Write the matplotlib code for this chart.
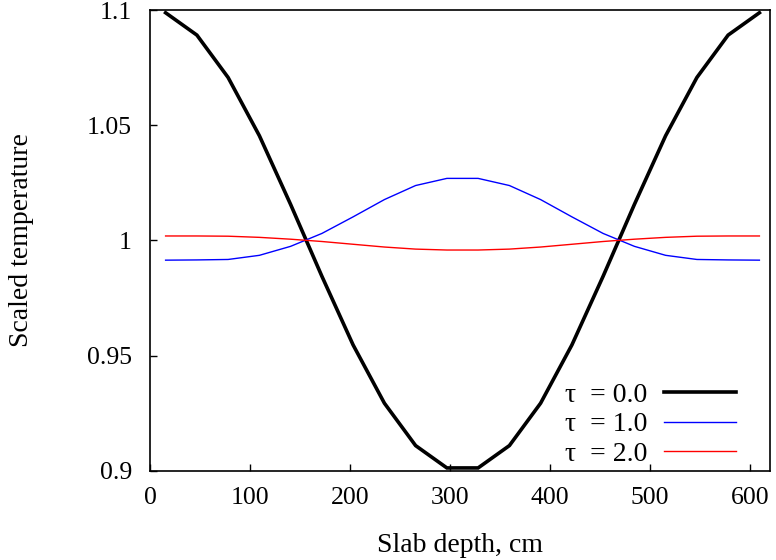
import matplotlib
matplotlib.use("Agg")
import matplotlib.pyplot as plt

plt.rcParams["font.family"] = ["Liberation Serif", "DejaVu Serif"]

# cell centres along the slab (cm)
depth = [15.6, 46.9, 78.1, 109.4, 140.6, 171.9, 203.1, 234.4, 265.6, 296.9,
         328.1, 359.4, 390.6, 421.9, 453.1, 484.4, 515.6, 546.9, 578.1, 609.4]

temp_t0 = [1.0988, 1.0891, 1.0707, 1.0454, 1.0156, 0.9844, 0.9546, 0.9293, 0.9109, 0.9012,
           0.9012, 0.9109, 0.9293, 0.9546, 0.9844, 1.0156, 1.0454, 1.0707, 1.0891, 1.0988]
temp_t1 = [0.9914, 0.9915, 0.9917, 0.9935, 0.9974, 1.0030, 1.0102, 1.0177, 1.0238, 1.0269,
           1.0269, 1.0238, 1.0177, 1.0102, 1.0030, 0.9974, 0.9935, 0.9917, 0.9915, 0.9914]
temp_t2 = [1.0019, 1.0019, 1.0018, 1.0013, 1.0005, 0.9995, 0.9983, 0.9971, 0.9962, 0.9958,
           0.9958, 0.9962, 0.9971, 0.9983, 0.9995, 1.0005, 1.0013, 1.0018, 1.0019, 1.0019]

labels = ["τ  = 0.0", "τ  = 1.0", "τ  = 2.0"]

xticks = [0, 100, 200, 300, 400, 500, 600]
yticks = [0.9, 0.95, 1.0, 1.05, 1.1]
yticklabels = ["0.9", "0.95", "1", "1.05", "1.1"]

fig = plt.figure(figsize=(7.76, 5.6), dpi=100)
ax = fig.add_axes([150 / 776, 1 - 470.7 / 560, 620 / 776, 460.7 / 560])

ax.plot(depth, temp_t0, color="black", lw=2.6, label=labels[0], solid_joinstyle="miter")
ax.plot(depth, temp_t1, color="#0000ff", lw=1.0, label=labels[1])
ax.plot(depth, temp_t2, color="#ff0000", lw=1.0, label=labels[2])

ax.set_xlim(0, 620)
ax.set_ylim(0.9, 1.1)
ax.set_xticks(xticks)
ax.set_yticks(yticks)
ax.set_yticklabels(yticklabels)
ax.tick_params(direction="in", length=5, width=1, labelsize=18.5,
               top=False, right=False)
ax.tick_params(axis="x", pad=12)
ax.tick_params(axis="y", pad=13)
for s in ax.spines.values():
    s.set_linewidth(1.2)

ax.set_xlabel("Slab depth, cm", fontsize=20, labelpad=17)
ax.set_ylabel("Scaled temperature", fontsize=20, labelpad=38)

ax.legend(loc="lower right", frameon=False, markerfirst=False, fontsize=20,
          handlelength=2.6, handletextpad=0.6, labelspacing=0.15,
          borderaxespad=0.0, bbox_to_anchor=(0.963, -0.016))

fig.savefig("out.png", dpi=100)
